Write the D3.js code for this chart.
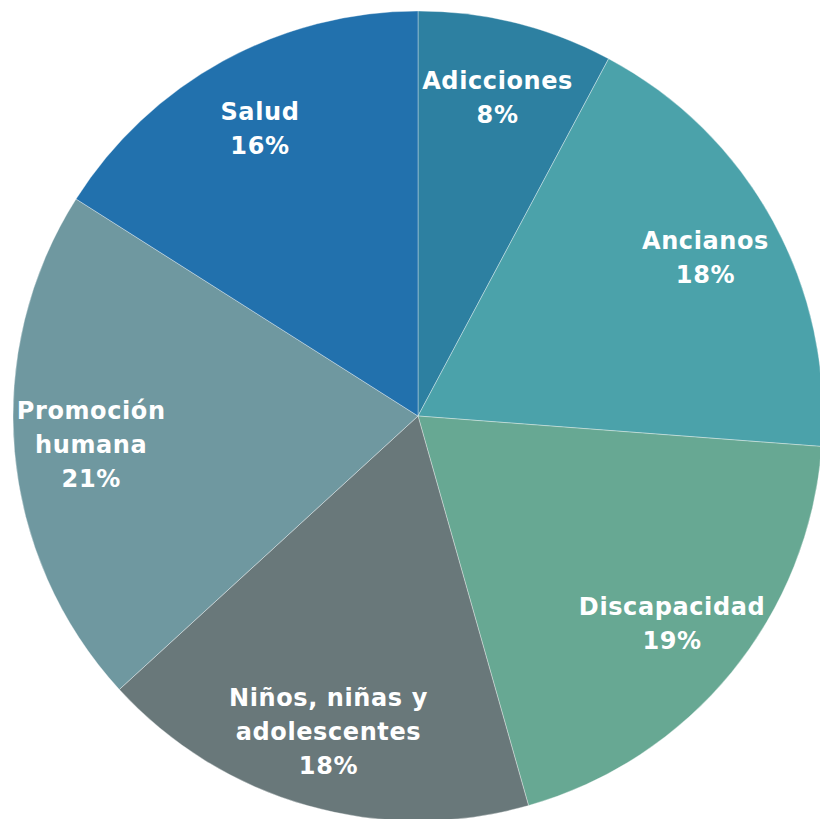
<!DOCTYPE html>
<html>
<head>
<meta charset="utf-8">
<script src="https://cdnjs.cloudflare.com/ajax/libs/d3/7.8.5/d3.min.js"></script>
<style>
  body { margin: 0; background: #fff; }
  svg { display: block; }
  .lbl { font-family: "DejaVu Sans", sans-serif; font-weight: bold; fill: #fff; font-size: 24px; letter-spacing: 0.6px; }
</style>
</head>
<body>
<script>
// slices, clockwise from the top
var categories = ["Adicciones", "Ancianos", "Discapacidad", "Niños, niñas y adolescentes", "Promoción humana", "Salud"];
var labelLines = [["Adicciones"], ["Ancianos"], ["Discapacidad"], ["Niños, niñas y", "adolescentes"], ["Promoción", "humana"], ["Salud"]];
var values = [7.8, 18.4, 19.4, 17.6, 20.8, 16.0];
var colors = ["#2d80a1", "#4ba2aa", "#67a893", "#69787a", "#6f98a0", "#2271ad"];

var width = 820, height = 819;
var cx = 418, cy = 416, radius = 405;

var data = categories.map(function(c, i) {
  return { name: c, lines: labelLines[i], value: values[i], color: colors[i] };
});
var total = d3.sum(values);

var svg = d3.select("body").append("svg")
  .attr("width", width)
  .attr("height", height);

var g = svg.append("g")
  .attr("transform", "translate(" + cx + "," + cy + ")");

var pie = d3.pie().sort(null).value(function(d) { return d.value; });
var arc = d3.arc().innerRadius(0).outerRadius(radius);
var labelArc = d3.arc().innerRadius(radius * 0.81).outerRadius(radius * 0.81);

var arcs = pie(data);

g.selectAll("path.slice")
  .data(arcs)
  .enter()
  .append("path")
  .attr("class", "slice")
  .attr("d", arc)
  .attr("fill", function(d) { return d.data.color; })
  .attr("stroke", "rgba(255,255,255,0.35)")
  .attr("stroke-width", 1);

var lineH = 34;
var labels = g.selectAll("text.lbl")
  .data(arcs)
  .enter()
  .append("text")
  .attr("class", "lbl")
  .attr("text-anchor", "middle")
  .attr("transform", function(d) {
    var c = labelArc.centroid(d);
    return "translate(" + c[0] + "," + c[1] + ")";
  });

labels.each(function(d) {
  var lines = d.data.lines.concat([Math.round(d.data.value / total * 100) + "%"]);
  var t = d3.select(this);
  var y0 = -(lines.length - 1) * lineH / 2;
  lines.forEach(function(l, i) {
    t.append("tspan")
      .attr("x", 0)
      .attr("y", y0 + i * lineH)
      .attr("dy", "0.35em")
      .text(l);
  });
});
</script>
</body>
</html>
